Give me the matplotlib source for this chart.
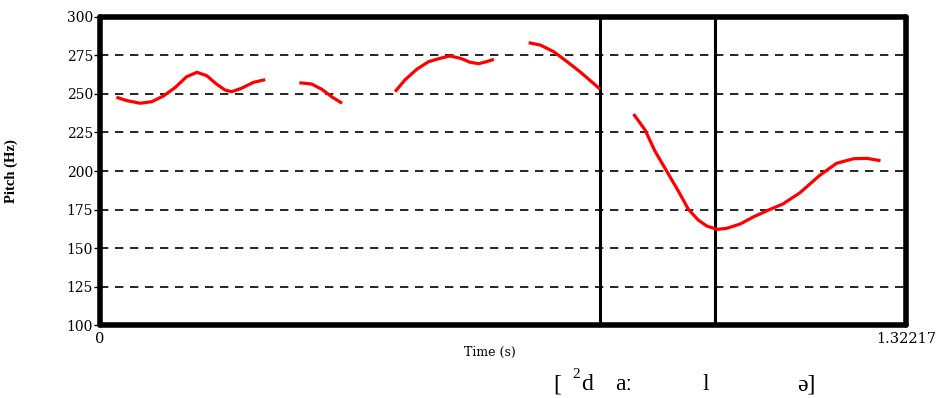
import matplotlib
matplotlib.use('Agg')
import matplotlib.pyplot as plt

# pitch contour segments (time in s, pitch in Hz)
seg1_t = [0.027, 0.044, 0.066, 0.085, 0.104, 0.123, 0.142, 0.159, 0.175, 0.191,
          0.205, 0.216, 0.232, 0.252, 0.271]
seg1_f = [247.9, 245.7, 244.0, 245.0, 248.7, 254.1, 261.2, 264.1, 261.9, 256.5,
          252.6, 251.5, 253.7, 257.6, 259.3]
seg2_t = [0.327, 0.347, 0.364, 0.380, 0.397]
seg2_f = [257.3, 256.5, 253.0, 248.2, 244.0]
seg3_t = [0.484, 0.500, 0.520, 0.539, 0.558, 0.574, 0.591, 0.607, 0.621, 0.634, 0.646]
seg3_f = [251.5, 259.1, 266.2, 271.0, 273.2, 274.7, 273.2, 270.6, 269.7, 271.0, 272.5]
seg4_t = [0.703, 0.722, 0.744, 0.766, 0.787, 0.809, 0.820]
seg4_f = [283.3, 281.8, 277.5, 271.0, 264.5, 257.0, 253.2]
seg5_t = [0.875, 0.894, 0.910, 0.930, 0.949, 0.965, 0.981, 0.995, 1.012, 1.028,
          1.050, 1.072, 1.099, 1.120, 1.148, 1.181, 1.208, 1.236, 1.258, 1.280]
seg5_f = [237.0, 226.6, 213.0, 199.5, 186.6, 175.1, 168.2, 164.3, 162.1, 162.8,
          165.6, 170.3, 175.1, 178.6, 185.9, 197.4, 205.0, 208.0, 208.2, 206.7]

boundaries = [0.820, 1.009]
y_ticks = [100, 125, 150, 175, 200, 225, 250, 275, 300]
x_end = 1.32217

plt.rcParams['font.family'] = ['DejaVu Serif']

fig = plt.figure(figsize=(9.43, 3.98), dpi=100)
ax = fig.add_axes([0.106, 0.1834, 0.855, 0.7739])

for yt in y_ticks[1:-1]:
    ax.axhline(yt, color='black', lw=1.2, ls=(0, (5, 4)), zorder=1)

for b in boundaries:
    ax.axvline(b, color='black', lw=2.2, zorder=2)

for t, f in [(seg1_t, seg1_f), (seg2_t, seg2_f), (seg3_t, seg3_f),
             (seg4_t, seg4_f), (seg5_t, seg5_f)]:
    ax.plot(t, f, color='red', lw=2.3, solid_capstyle='butt',
            solid_joinstyle='round', zorder=3)

ax.set_xlim(0, x_end)
ax.set_ylim(100, 300)
ax.set_yticks(y_ticks)
ax.set_xticks([0, x_end])
ax.set_xticklabels(['0', '1.32217'])
ax.tick_params(axis='y', length=4, width=1, pad=1, labelsize=10)
ax.tick_params(axis='x', length=0, pad=5, labelsize=10.5)

for s in ax.spines.values():
    s.set_linewidth(4)
    s.set_capstyle('round')

ax.set_ylabel('Pitch (Hz)', fontsize=10.5, fontweight='bold', family='Liberation Serif')
ax.yaxis.set_label_coords(-0.102, 0.5)
fig.text(490 / 943, 1 - 352 / 398, 'Time (s)', ha='center', va='center', fontsize=9)

# phonetic transcription under the plot
ipa = [('[', 557), ('d', 587), ('a\u02d0', 624), ('l', 706), ('\u0259]', 806)]
for txt, xp in ipa:
    fig.text(xp / 943, 1 - 385 / 398, txt, ha='center', va='center', fontsize=17,
             family='Liberation Serif')
fig.text(576 / 943, 1 - 374 / 398, '2', ha='center', va='center', fontsize=11,
         family='Liberation Serif')

fig.savefig('out.png', dpi=100)
